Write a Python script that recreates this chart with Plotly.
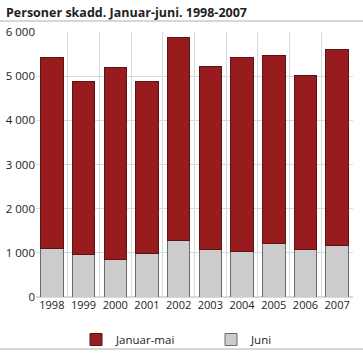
import plotly.graph_objects as go

years = ["1998", "1999", "2000", "2001", "2002", "2003", "2004", "2005", "2006", "2007"]
juni = [1100, 960, 860, 975, 1275, 1075, 1030, 1210, 1085, 1175]
total = [5415, 4885, 5190, 4880, 5885, 5220, 5415, 5470, 5010, 5605]
januar_mai = [t - j for t, j in zip(total, juni)]
y_ticks = [0, 1000, 2000, 3000, 4000, 5000, 6000]
y_labels = ["0", "1 000", "2 000", "3 000", "4 000", "5 000", "6 000"]

title = "Personer skadd. Januar-juni. 1998-2007"

W, H = 363, 358
L, R, T, B = 36, 10, 32, 61
PW = W - L - R
PH = H - T - B

def px_x(p):
    return (p - L) / PW

def px_y(p):
    return (H - B - p) / PH

fig = go.Figure()
fig.add_bar(x=years, y=juni, name="Juni",
            marker=dict(color="#cccccc", line=dict(color="#6b6b6b", width=1)))
fig.add_bar(x=years, y=januar_mai, name="Januar-mai",
            marker=dict(color="#981b1e", line=dict(color="#5a1414", width=1)))

fig.update_layout(
    width=W, height=H,
    margin=dict(l=L, r=R, t=T, b=B, autoexpand=False),
    barmode="stack",
    bargap=0.29,
    plot_bgcolor="white",
    paper_bgcolor="white",
    font=dict(family="Open Sans", size=11, color="#222222"),
    showlegend=True,
    legend=dict(orientation="h", x=px_x(76), y=px_y(325), xanchor="left", yanchor="top",
                traceorder="reversed", entrywidth=90, entrywidthmode="pixels",
                bgcolor="rgba(0,0,0,0)",
                font=dict(size=11.5, color="#222222"), itemwidth=30),
    xaxis=dict(type="category", tickson="boundaries", showgrid=True, gridcolor="#d5d9e0",
               gridwidth=1, ticks="", showline=False, tickfont=dict(size=11),
               tickangle=0, automargin=False),
    yaxis=dict(range=[0, 6000], tickvals=y_ticks, ticktext=y_labels, showgrid=True,
               gridcolor="#d5d9e0", gridwidth=1, zeroline=True, zerolinecolor="#d5d9e0",
               showline=False, ticks="", tickfont=dict(size=11.5), automargin=False),
    annotations=[dict(text="<b>" + title + "</b>", xref="paper", yref="paper",
                      x=px_x(4), y=px_y(12), xanchor="left", yanchor="middle",
                      showarrow=False, font=dict(size=12.5, color="#222222"))],
    shapes=[
        dict(type="line", xref="paper", yref="paper", x0=px_x(0), x1=px_x(W),
             y0=px_y(21), y1=px_y(21), line=dict(color="#b0b0b0", width=1)),
        dict(type="line", xref="paper", yref="paper", x0=px_x(0), x1=px_x(W),
             y0=px_y(349), y1=px_y(349), line=dict(color="#b0b0b0", width=1)),
    ],
)

fig.write_html("out.html", config={"displayModeBar": False},
               post_script="document.body.style.margin='0';document.body.style.overflow='hidden';")
